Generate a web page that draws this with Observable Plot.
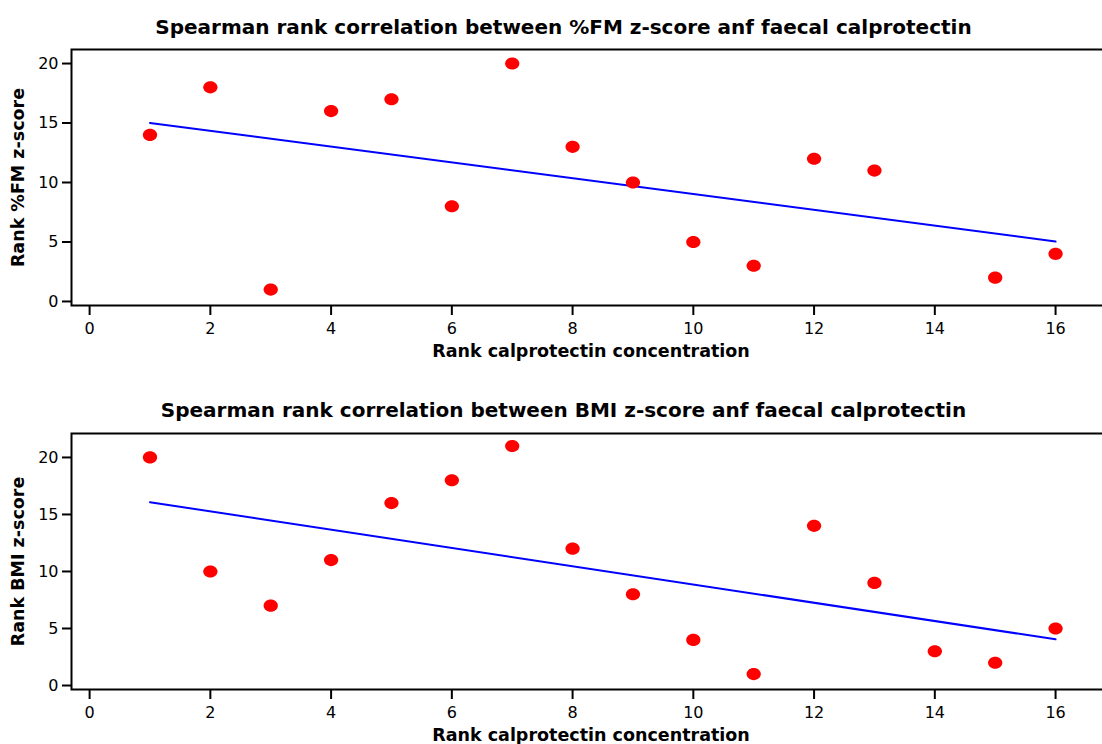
<!DOCTYPE html>
<html>
<head>
<meta charset="utf-8">
<script src="https://cdn.jsdelivr.net/npm/d3@7"></script>
<script src="https://cdn.jsdelivr.net/npm/@observablehq/plot@0.6"></script>
<style>
  html, body { margin: 0; padding: 0; background: #fff; }
  body { width: 1102px; height: 744px; overflow: hidden; position: relative; font-family: "DejaVu Sans", Verdana, sans-serif; }
  .panel { position: absolute; left: 0; width: 1110px; }
  .panel svg { max-width: none !important; display: block; }
</style>
</head>
<body>
<div id="p1" class="panel" style="top:0px"></div>
<div id="p2" class="panel" style="top:372px"></div>
<script>
// Ranked observations: calprotectin rank vs. body-composition rank
const calproRankFM = [1, 2, 3, 4, 5, 6, 7, 8, 9, 10, 11, 12, 13, 15, 16];
const fmZRank      = [14, 18, 1, 16, 17, 8, 20, 13, 10, 5, 3, 12, 11, 2, 4];

const calproRankBMI = [1, 2, 3, 4, 5, 6, 7, 8, 9, 10, 11, 12, 13, 14, 15, 16];
const bmiZRank      = [20, 10, 7, 11, 16, 18, 21, 12, 8, 4, 1, 14, 9, 3, 2, 5];

const xTicks = [0, 2, 4, 6, 8, 10, 12, 14, 16];
const yTicks = [0, 5, 10, 15, 20];

const titleFM  = "Spearman rank correlation between %FM z-score anf faecal calprotectin";
const titleBMI = "Spearman rank correlation between BMI z-score anf faecal calprotectin";
const xLabel   = "Rank calprotectin concentration";
const yLabelFM  = "Rank %FM z-score";
const yLabelBMI = "Rank BMI z-score";

// Slightly wide elliptical marker (d3-symbol compatible)
const ellipseSymbol = {
  draw(context, size) {
    const r = Math.sqrt(size / Math.PI);
    const rx = r * 1.08, ry = r * 0.92, k = 0.5523;
    context.moveTo(rx, 0);
    context.bezierCurveTo(rx, ry * k, rx * k, ry, 0, ry);
    context.bezierCurveTo(-rx * k, ry, -rx, ry * k, -rx, 0);
    context.bezierCurveTo(-rx, -ry * k, -rx * k, -ry, 0, -ry);
    context.bezierCurveTo(rx * k, -ry, rx, -ry * k, rx, 0);
    context.closePath();
  }
};

function scatterPanel({xs, ys, title, yLabel, height, marginTop, marginBottom, yDomain, titleDy}) {
  const rows = xs.map((x, i) => ({x, y: ys[i]}));
  return Plot.plot({
    width: 1110,
    height,
    marginTop,
    marginBottom,
    marginLeft: 71,
    marginRight: 0,
    style: {fontFamily: "'DejaVu Sans', Verdana, sans-serif", fontSize: "16px", color: "#000", background: "#fff", overflow: "visible"},
    x: {domain: [-0.3, 16.91]},
    y: {domain: yDomain},
    marks: [
      Plot.frame({stroke: "#000", strokeWidth: 2}),
      Plot.axisX({ticks: xTicks, tickSize: 10, tickPadding: 7, strokeWidth: 2, label: null}),
      Plot.axisY({ticks: yTicks, tickSize: 9, tickPadding: 4, strokeWidth: 2, label: null}),
      Plot.linearRegressionY(rows, {x: "x", y: "y", stroke: "#0000ff", strokeWidth: 2, ci: 0}),
      Plot.dot(rows, {x: "x", y: "y", r: 6.6, symbol: ellipseSymbol, fill: "#ff0000", stroke: null}),
      Plot.text([xLabel], {frameAnchor: "bottom", lineAnchor: "middle", textAnchor: "middle", dy: 46, fontWeight: "bold", fontSize: 17.5, fill: "#000"}),
      Plot.text([yLabel], {frameAnchor: "left", lineAnchor: "middle", textAnchor: "middle", dx: -53, rotate: -90, fontWeight: "bold", fontSize: 17.5, fill: "#000"}),
      Plot.text([title], {frameAnchor: "top", lineAnchor: "middle", textAnchor: "middle", dx: -27.5, dy: titleDy, fontWeight: "bold", fontSize: 20, fill: "#000"})
    ]
  });
}

document.getElementById("p1").append(scatterPanel({
  xs: calproRankFM, ys: fmZRank, title: titleFM, yLabel: yLabelFM,
  height: 372, marginTop: 49, marginBottom: 67, yDomain: [-0.34, 21.18], titleDy: -22
}));

document.getElementById("p2").append(scatterPanel({
  xs: calproRankBMI, ys: bmiZRank, title: titleBMI, yLabel: yLabelBMI,
  height: 372, marginTop: 61, marginBottom: 55, yDomain: [-0.35, 22.1], titleDy: -23
}));
</script>
</body>
</html>
